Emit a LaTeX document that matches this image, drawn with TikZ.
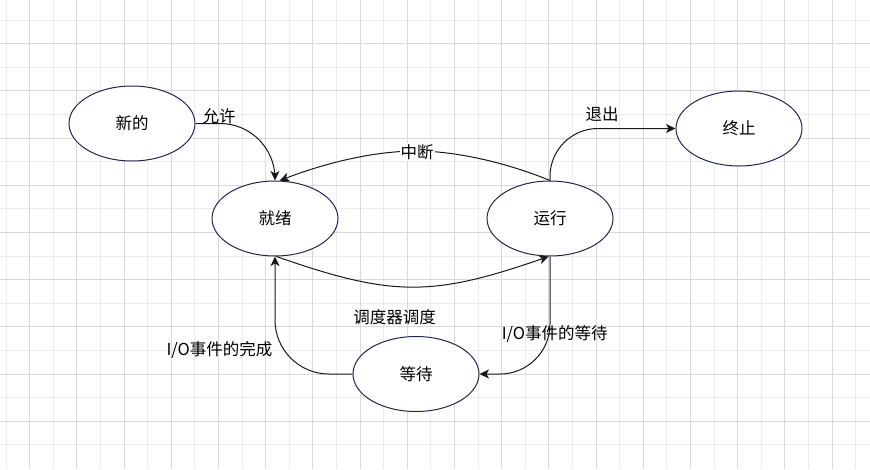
\documentclass[tikz,border=0pt]{standalone}
\usepackage{fontspec}
\setmainfont{Noto Sans CJK SC}
\usetikzlibrary{arrows.meta,shapes.geometric}

\definecolor{statecol}{RGB}{36,36,80}
\definecolor{edgecol}{RGB}{25,25,25}
\definecolor{gridmajor}{RGB}{217,217,217}
\definecolor{gridminor}{RGB}{236,236,236}

\begin{document}
\begin{tikzpicture}[
  x=1pt, y=-1pt,
  every node/.style={font=\fontsize{16.5}{20}\selectfont},
  state/.style={ellipse, draw=statecol, fill=white, line width=1pt,
    minimum width=126pt, minimum height=75pt, inner sep=0pt},
  edge/.style={-{Stealth[length=9.5pt,width=9pt,inset=2.5pt]}, line width=1pt, edgecol},
  lbl/.style={inner sep=1pt},
]
  \useasboundingbox (0,0) rectangle (870,469);
  \fill[white] (0,0) rectangle (870,469);
  % grid
  \foreach \gx in {6,53.2,...,860} \draw[gridminor, line width=1pt] (\gx,0) -- (\gx,469);
  \foreach \gy in {20,67.2,...,460} \draw[gridminor, line width=1pt] (0,\gy) -- (870,\gy);
  \foreach \gx in {29.6,76.8,...,860} \draw[gridmajor, line width=1pt] (\gx,0) -- (\gx,469);
  \foreach \gy in {43.6,90.8,...,460} \draw[gridmajor, line width=1pt] (0,\gy) -- (870,\gy);

  % states
  \node[state] (xin)      at (132,123.5) {新的};
  \node[state] (jiuxu)    at (275,218.5) {就绪};
  \node[state] (yunxing)  at (550,218.5) {运行};
  \node[state] (zhongzhi) at (739,128.5) {终止};
  \node[state] (dengdai)  at (416,374)   {等待};

  % transitions
  \draw[edge, rounded corners=55pt] (xin.east) -| (jiuxu.north);
  \draw[edge, rounded corners=48pt] (yunxing.north) |- (zhongzhi.west);
  \draw[edge] (yunxing.north) .. controls (500,160) and (450,151) .. (417,151)
    .. controls (370,151) and (320,165) .. (jiuxu.83);
  \draw[edge] (jiuxu.272) .. controls (392,297) and (432,297) .. (yunxing.268);
  \draw[edge, rounded corners=50pt] (yunxing.south) |- (dengdai.east);
  \draw[edge, rounded corners=54pt] (dengdai.west) -| (jiuxu.south);

  % labels
  \node[lbl] (yunxu)     at (219,116)   {允许};
  \node[lbl, fill=white] (zhongduan) at (417,152) {中断};
  \node[lbl] (tuichu)    at (602,114)   {退出};
  \node[lbl] (diaodu)    at (394.5,317.5) {调度器调度};
  \node[lbl] (wancheng)  at (219.5,349.5) {I/O事件的完成};
  \node[lbl] (dengdaiio) at (554.7,334) {I/O事件的等待};
\end{tikzpicture}
\end{document}
